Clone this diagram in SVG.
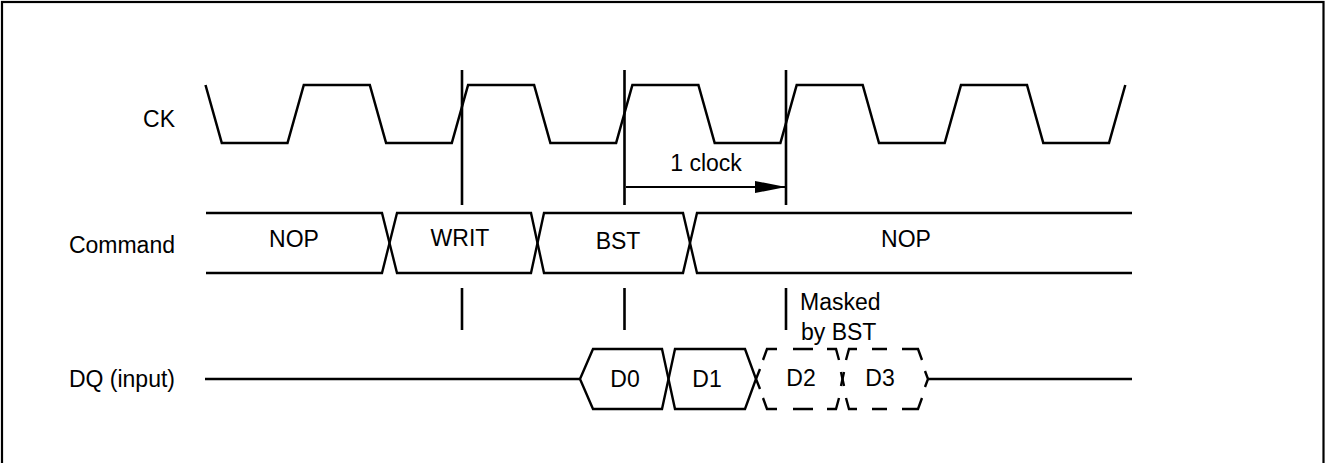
<svg xmlns="http://www.w3.org/2000/svg" width="1326" height="463" viewBox="0 0 1326 463">
<style>
  text { font-family: "Liberation Sans", Arial, Helvetica, sans-serif; font-size: 23px; fill: #000; }
  .lbl { text-anchor: end; }
  .mid { text-anchor: middle; }
  .wave { fill: none; stroke: #000; stroke-width: 2.5; stroke-linejoin: miter; }
  .bus { fill: none; stroke: #000; stroke-width: 2.4; }
  .dash { fill: none; stroke: #000; stroke-width: 2.4; stroke-linecap: butt; }
  .mark { stroke: #000; stroke-width: 2.6; fill: none; }
</style>
<defs>
  <marker id="ah" markerWidth="31" markerHeight="12" refX="31" refY="6" orient="auto" markerUnits="userSpaceOnUse">
    <path d="M0,0 L31,6 L0,12 Z" fill="#000"/>
  </marker>
</defs>
<rect id="frame" x="2" y="2" width="1321.5" height="475" fill="#fff" stroke="#000" stroke-width="2.2"/>

<g id="label-ck"><text class="lbl" x="175" y="127">CK</text></g>
<g id="label-command"><text class="lbl" x="175" y="253">Command</text></g>
<g id="label-dq"><text class="lbl" x="175" y="387">DQ (input)</text></g>

<g id="ck-wave">
  <path class="wave" d="M205.5,85 L221.8,143 L287.5,143 L303.8,85 L369.8,85 L386.1,143 L451.8,143 L468.1,85 L534.1,85 L550.4,143 L616.1,143 L632.4,85 L698.4,85 L714.7,143 L780.4,143 L796.7,85 L862.7,85 L879,143 L944.7,143 L961,85 L1027,85 L1043.3,143 L1109,143 L1125.3,85"/>
</g>

<g id="cmd-nop1">
  <path class="bus" d="M206,213 L382,213 L389.5,243 L382,273 L206,273"/>
  <text class="mid" x="294" y="247">NOP</text>
</g>
<g id="cmd-writ">
  <path class="bus" d="M389.5,243 L397,213 L531,213 L537.5,243 L531,273 L397,273 Z"/>
  <text class="mid" x="460" y="246">WRIT</text>
</g>
<g id="cmd-bst">
  <path class="bus" d="M537.5,243 L544,213 L683,213 L690,243 L683,273 L544,273 Z"/>
  <text class="mid" x="618" y="249">BST</text>
</g>
<g id="cmd-nop2">
  <path class="bus" d="M1132,213 L697,213 L690,243 L697,273 L1132,273"/>
  <text class="mid" x="906" y="247">NOP</text>
</g>

<g id="dq-idle-left"><path class="bus" d="M205,379 L580,379"/></g>
<g id="dq-d0">
  <path class="bus" d="M580,379 L593,349 L662,349 L668.5,379 L662,409 L593,409 Z"/>
  <text class="mid" x="625" y="387">D0</text>
</g>
<g id="dq-d1">
  <path class="bus" d="M668.5,379 L675,349 L745,349 L756,379 L745,409 L675,409 Z"/>
  <text class="mid" x="707" y="387">D1</text>
</g>
<g id="dq-d2">
  <path class="dash" d="M763,360 L767,349 L777,349 M793,349 L813,349 M827,349 L836,349 L839,360 M760,369 L756,379 L760,389 M763,398 L767,409 L777,409 M793,409 L813,409 M827,409 L836,409 L839,398 M841,372 L842.5,379 L841,386"/>
  <text class="mid" x="801" y="386">D2</text>
</g>
<g id="dq-d3">
  <path class="dash" d="M846,360 L849,349 L857,349 M872,349 L887,349 M902,349 L918,349 L922,360 M844,372 L842.5,379 L844,386 M846,398 L849,409 L857,409 M872,409 L887,409 M902,409 L918,409 L922,398 M925,371 L928,379 L925,387"/>
  <text class="mid" x="880" y="386">D3</text>
</g>
<g id="dq-idle-right"><path class="bus" d="M928,379 L1132,379"/></g>

<g id="note-masked">
  <text x="800" y="310">Masked</text>
  <text x="801" y="340">by BST</text>
</g>

<g id="connectors">
  <path class="mark" d="M462,70 L462,205 M462,288 L462,330"/>
  <path class="mark" d="M624.5,70 L624.5,205 M624.5,288 L624.5,330"/>
  <path class="mark" d="M786,70 L786,205 M786,288 L786,330"/>
  <path d="M626,187 L786,187" stroke="#000" stroke-width="2.2" fill="none" marker-end="url(#ah)"/>
  <text class="mid" x="706" y="171">1 clock</text>
</g>
</svg>
